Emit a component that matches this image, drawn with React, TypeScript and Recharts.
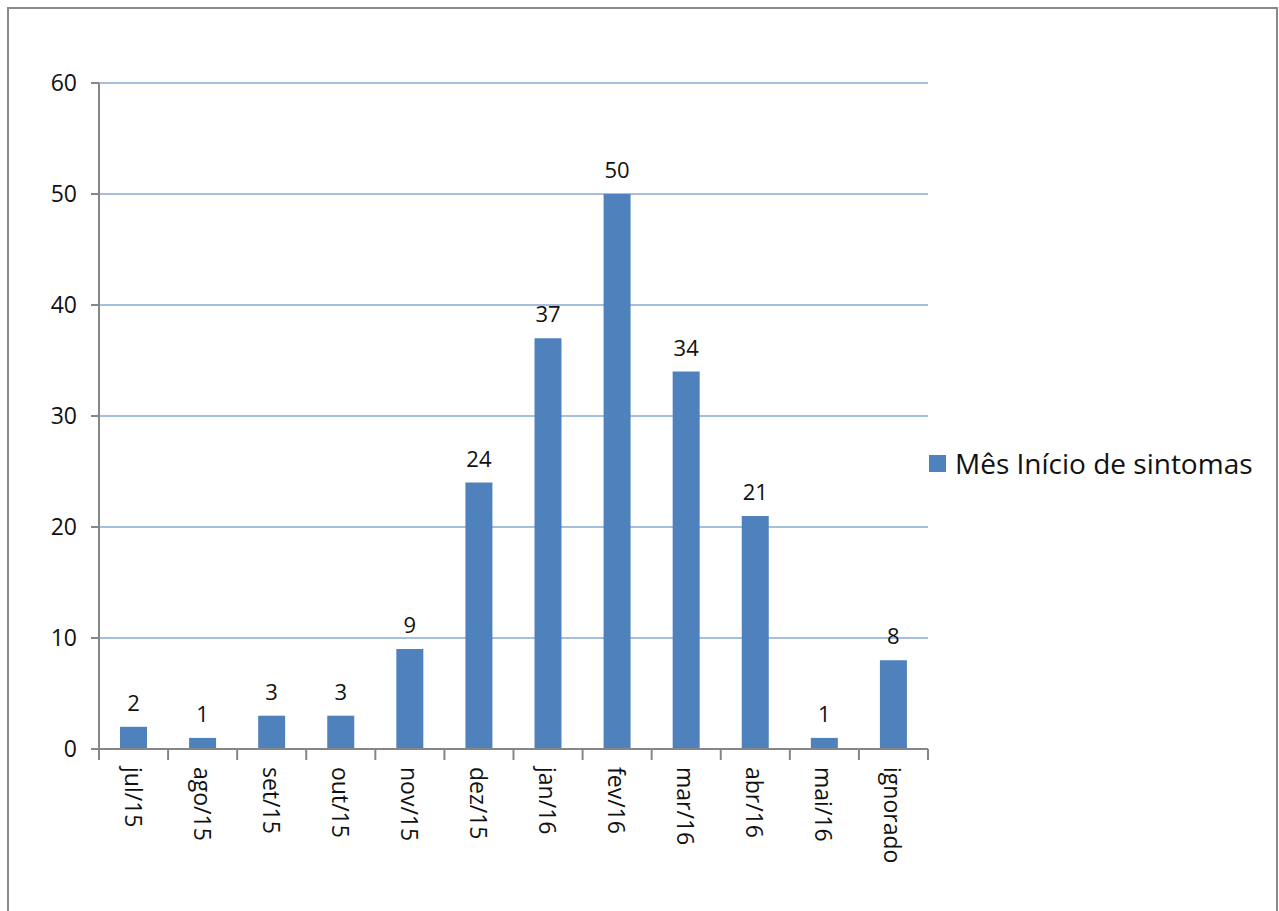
import React from 'react';
import { BarChart, Bar, XAxis, YAxis, CartesianGrid, LabelList } from 'recharts';

const categories = ['jul/15', 'ago/15', 'set/15', 'out/15', 'nov/15', 'dez/15', 'jan/16', 'fev/16', 'mar/16', 'abr/16', 'mai/16', 'ignorado'];
const values = [2, 1, 3, 3, 9, 24, 37, 50, 34, 21, 1, 8];
const yTicks = [0, 10, 20, 30, 40, 50, 60];
const seriesName = 'Mês Início de sintomas';

const data = categories.map((c, i) => ({ name: c, value: values[i] }));

const FONT = '"Open Sans", "Noto Sans", sans-serif';
const AXIS = '#868686';
const BAR = '#4f81bd';
const PLOT_LEFT = 99;
const PLOT_RIGHT = 928;
const BAND = (PLOT_RIGHT - PLOT_LEFT) / categories.length;

const XTick = (props: any) => {
  const { x, y, payload, index } = props;
  const isLast = index === categories.length - 1;
  return (
    <g>
      <line x1={x - BAND / 2} x2={x - BAND / 2} y1={y - 8} y2={y + 3} stroke={AXIS} strokeWidth={2} />
      {isLast && <line x1={x + BAND / 2} x2={x + BAND / 2} y1={y - 8} y2={y + 3} stroke={AXIS} strokeWidth={2} />}
      <text
        transform={`translate(${x},${y + 10}) rotate(90)`}
        textAnchor="start"
        dominantBaseline="central"
        fontFamily={FONT}
        fontSize={23}
        fill="#111"
      >
        {payload.value}
      </text>
    </g>
  );
};

export default function App() {
  return (
    <div style={{ position: 'absolute', left: 0, top: 0, width: 1279, height: 911, background: '#fff', overflow: 'hidden' }}>
      <div style={{ position: 'absolute', left: 7, top: 7, width: 1271, height: 920, border: '2px solid #8a8a8a', boxSizing: 'border-box' }} />
      <BarChart
        width={1279}
        height={911}
        data={data}
        margin={{ top: 83, right: 1279 - PLOT_RIGHT, bottom: 62, left: 0 }}
        barCategoryGap={0}
      >
        <CartesianGrid vertical={false} stroke="#a7bfdf" strokeWidth={2} />
        <XAxis
          dataKey="name"
          height={100}
          interval={0}
          axisLine={{ stroke: AXIS, strokeWidth: 2 }}
          tickLine={false}
          tick={<XTick />}
        />
        <YAxis
          width={PLOT_LEFT}
          domain={[0, 60]}
          ticks={yTicks}
          interval={0}
          tickSize={8}
          tickMargin={14}
          axisLine={{ stroke: AXIS, strokeWidth: 2 }}
          tickLine={{ stroke: AXIS, strokeWidth: 2 }}
          tick={{ fontFamily: FONT, fontSize: 23, fill: '#111' }}
        />
        <Bar dataKey="value" name={seriesName} fill={BAR} barSize={27} isAnimationActive={false}>
          <LabelList dataKey="value" position="top" offset={16} style={{ fontFamily: FONT, fontSize: 22, fill: '#111' }} />
        </Bar>
      </BarChart>
      <div style={{ position: 'absolute', left: 929, top: 444, display: 'flex', alignItems: 'center', fontFamily: FONT, fontSize: 28, color: '#111', whiteSpace: 'nowrap' }}>
        <span style={{ display: 'inline-block', width: 17, height: 17, background: BAR, marginRight: 9 }} />
        <span>{seriesName}</span>
      </div>
    </div>
  );
}
